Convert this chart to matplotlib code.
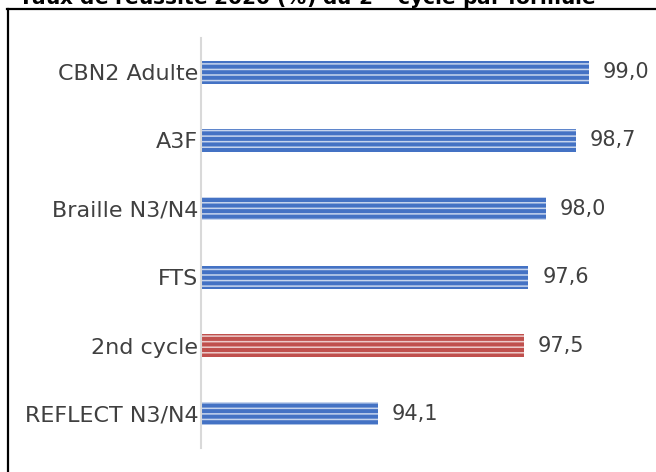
import matplotlib
matplotlib.use("Agg")
import matplotlib.pyplot as plt
from matplotlib.lines import Line2D

categories = ["CBN2 Adulte", "A3F", "Braille N3/N4", "FTS", "2nd cycle", "REFLECT N3/N4"]
values = [99.0, 98.7, 98.0, 97.6, 97.5, 94.1]
highlight = "2nd cycle"
title = "Taux de réussite 2020 (%) du 2$^{nd}$ cycle par formule"

blue = "#4472C4"
red = "#C0504D"
txt = "#404040"

plt.rcParams["hatch.linewidth"] = 1.1

fig = plt.figure(figsize=(6.56, 4.72), dpi=100)
ax = fig.add_axes([201/656, 1 - 448/472, (634 - 201)/656, (448 - 38)/472])

ypos = list(range(len(categories)))[::-1]
for y, c, v in zip(ypos, categories, values):
    col = red if c == highlight else blue
    ax.barh(y, v - 90, left=90, height=0.335, color=col, edgecolor=(1, 1, 1, 0.7),
            linewidth=0, hatch="---")
    ax.annotate(f"{v:.1f}".replace(".", ","), xy=(v, y), xytext=(10, 0),
                textcoords="offset points", va="center", ha="left",
                fontsize=15, color=txt)

ax.set_xlim(90, 100.05)
ax.set_ylim(-0.5, len(categories) - 0.5)
ax.set_yticks(ypos)
ax.set_yticklabels(categories, fontsize=16, color=txt)
ax.tick_params(axis="y", length=0, pad=2)
ax.set_xticks([])
for s in ["top", "right", "bottom"]:
    ax.spines[s].set_visible(False)
ax.spines["left"].set_color("#D9D9D9")
ax.spines["left"].set_linewidth(1.5)

# frame lines
fig.add_artist(Line2D([7/656, 1], [1 - 8.5/472, 1 - 8.5/472], transform=fig.transFigure,
                      color="black", linewidth=1.6))
fig.add_artist(Line2D([8/656, 8/656], [0, 1 - 8.5/472], transform=fig.transFigure,
                      color="black", linewidth=1.6))

fig.text(18/656, 1 - 5/472, title, fontsize=14.5, fontweight="bold", color="black",
         ha="left", va="baseline")

fig.savefig("out.png", dpi=100)
